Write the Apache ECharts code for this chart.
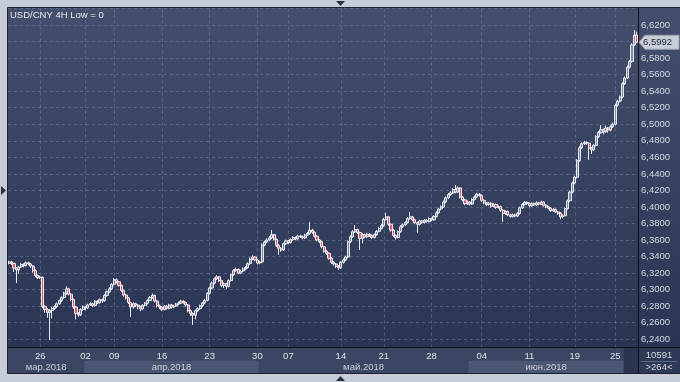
<!DOCTYPE html>
<html><head><meta charset="utf-8">
<script src="https://cdn.jsdelivr.net/npm/echarts@6/dist/echarts.min.js"></script>
<style>html,body{margin:0;padding:0;background:#c6cdd8;overflow:hidden}#c{width:680px;height:382px}</style>
</head><body><div id="c"></div><script>
const title = 'USD/CNY 4H Low = 0';
const opens = [
6.3320,6.3335,6.3318,6.3262,6.3240,6.3275,6.3305,6.3290,6.3325,6.3310,
6.3285,6.3230,6.3170,6.3145,6.3150,6.2795,6.2760,6.2725,6.2748,6.2772,
6.2795,6.2830,6.2868,6.2905,6.2958,6.3010,6.2945,6.2880,6.2790,6.2712,
6.2695,6.2760,6.2792,6.2778,6.2815,6.2830,6.2808,6.2860,6.2842,6.2880,
6.2865,6.2930,6.2975,6.3010,6.3065,6.3120,6.3095,6.3052,6.2990,6.2935,
6.2900,6.2845,6.2790,6.2830,6.2812,6.2795,6.2768,6.2810,6.2835,6.2870,
6.2905,6.2930,6.2862,6.2805,6.2790,6.2760,6.2800,6.2775,6.2815,6.2790,
6.2802,6.2825,6.2838,6.2860,6.2845,6.2815,6.2745,6.2712,6.2690,6.2745,
6.2770,6.2805,6.2840,6.2870,6.2955,6.3020,6.3080,6.3130,6.3155,6.3110,
6.3050,6.3072,6.3040,6.3110,6.3180,6.3230,6.3245,6.3200,6.3225,6.3250,
6.3268,6.3315,6.3370,6.3395,6.3360,6.3322,6.3335,6.3540,6.3575,6.3600,
6.3625,6.3665,6.3610,6.3535,6.3500,6.3480,6.3555,6.3590,6.3570,6.3605,
6.3630,6.3615,6.3650,6.3640,6.3625,6.3660,6.3680,6.3720,6.3695,6.3645,
6.3600,6.3580,6.3520,6.3465,6.3440,6.3380,6.3330,6.3310,6.3282,6.3265,
6.3330,6.3360,6.3395,6.3580,6.3640,6.3700,6.3725,6.3690,6.3620,6.3665,
6.3640,6.3670,6.3655,6.3630,6.3665,6.3705,6.3740,6.3775,6.3850,6.3880,
6.3790,6.3720,6.3655,6.3630,6.3700,6.3760,6.3785,6.3810,6.3860,6.3880,
6.3845,6.3810,6.3790,6.3830,6.3815,6.3840,6.3825,6.3860,6.3845,6.3885,
6.3930,6.3975,6.4000,6.4060,6.4110,6.4150,6.4170,6.4210,6.4180,6.4230,
6.4120,6.4085,6.4040,6.4060,6.4035,6.4090,6.4120,6.4155,6.4140,6.4080,
6.4050,6.4030,6.4045,6.4010,6.4030,6.3995,6.4005,6.3960,6.3920,6.3945,
6.3905,6.3885,6.3905,6.3890,6.3920,6.3990,6.4030,6.4055,6.4040,6.4015,
6.4040,6.4025,6.4050,6.4035,6.4060,6.4020,6.4000,6.3985,6.3955,6.3970,
6.3940,6.3925,6.3880,6.3895,6.3980,6.4075,6.4180,6.4290,6.4360,6.4560,
6.4715,6.4765,6.4780,6.4770,6.4710,6.4690,6.4745,6.4850,6.4900,6.4935,
6.4910,6.4955,6.4930,6.4970,6.5000,6.5230,6.5280,6.5330,6.5490,6.5560,
6.5690,6.5760,6.5960,6.6080];
const closes = [
6.3335,6.3318,6.3262,6.3240,6.3275,6.3305,6.3290,6.3325,6.3310,6.3285,
6.3230,6.3170,6.3145,6.3150,6.2795,6.2760,6.2725,6.2748,6.2772,6.2795,
6.2830,6.2868,6.2905,6.2958,6.3010,6.2945,6.2880,6.2790,6.2712,6.2695,
6.2760,6.2792,6.2778,6.2815,6.2830,6.2808,6.2860,6.2842,6.2880,6.2865,
6.2930,6.2975,6.3010,6.3065,6.3120,6.3095,6.3052,6.2990,6.2935,6.2900,
6.2845,6.2790,6.2830,6.2812,6.2795,6.2768,6.2810,6.2835,6.2870,6.2905,
6.2930,6.2862,6.2805,6.2790,6.2760,6.2800,6.2775,6.2815,6.2790,6.2802,
6.2825,6.2838,6.2860,6.2845,6.2815,6.2745,6.2712,6.2690,6.2745,6.2770,
6.2805,6.2840,6.2870,6.2955,6.3020,6.3080,6.3130,6.3155,6.3110,6.3050,
6.3072,6.3040,6.3110,6.3180,6.3230,6.3245,6.3200,6.3225,6.3250,6.3268,
6.3315,6.3370,6.3395,6.3360,6.3322,6.3335,6.3540,6.3575,6.3600,6.3625,
6.3665,6.3610,6.3535,6.3500,6.3480,6.3555,6.3590,6.3570,6.3605,6.3630,
6.3615,6.3650,6.3640,6.3625,6.3660,6.3680,6.3720,6.3695,6.3645,6.3600,
6.3580,6.3520,6.3465,6.3440,6.3380,6.3330,6.3310,6.3282,6.3265,6.3330,
6.3360,6.3395,6.3580,6.3640,6.3700,6.3725,6.3690,6.3620,6.3665,6.3640,
6.3670,6.3655,6.3630,6.3665,6.3705,6.3740,6.3775,6.3850,6.3880,6.3790,
6.3720,6.3655,6.3630,6.3700,6.3760,6.3785,6.3810,6.3860,6.3880,6.3845,
6.3810,6.3790,6.3830,6.3815,6.3840,6.3825,6.3860,6.3845,6.3885,6.3930,
6.3975,6.4000,6.4060,6.4110,6.4150,6.4170,6.4210,6.4180,6.4230,6.4120,
6.4085,6.4040,6.4060,6.4035,6.4090,6.4120,6.4155,6.4140,6.4080,6.4050,
6.4030,6.4045,6.4010,6.4030,6.3995,6.4005,6.3960,6.3920,6.3945,6.3905,
6.3885,6.3905,6.3890,6.3920,6.3990,6.4030,6.4055,6.4040,6.4015,6.4040,
6.4025,6.4050,6.4035,6.4060,6.4020,6.4000,6.3985,6.3955,6.3970,6.3940,
6.3925,6.3880,6.3895,6.3980,6.4075,6.4180,6.4290,6.4360,6.4560,6.4715,
6.4765,6.4780,6.4770,6.4710,6.4690,6.4745,6.4850,6.4900,6.4935,6.4910,
6.4955,6.4930,6.4970,6.5000,6.5230,6.5280,6.5330,6.5490,6.5560,6.5690,
6.5760,6.5960,6.6075,6.5992];
const highs = [
6.3350,6.3348,6.3325,6.3270,6.3288,6.3320,6.3318,6.3340,6.3338,6.3322,
6.3295,6.3245,6.3182,6.3168,6.3160,6.2810,6.2775,6.2765,6.2790,6.2810,
6.2845,6.2880,6.2920,6.2975,6.3042,6.3022,6.2955,6.2892,6.2800,6.2730,
6.2775,6.2810,6.2805,6.2830,6.2848,6.2842,6.2875,6.2872,6.2895,6.2892,
6.2945,6.2990,6.3028,6.3080,6.3140,6.3135,6.3105,6.3060,6.3000,6.2948,
6.2912,6.2855,6.2845,6.2842,6.2825,6.2808,6.2825,6.2850,6.2885,6.2922,
6.2952,6.2940,6.2875,6.2820,6.2800,6.2815,6.2812,6.2830,6.2828,6.2818,
6.2840,6.2855,6.2878,6.2872,6.2855,6.2828,6.2758,6.2725,6.2760,6.2785,
6.2820,6.2855,6.2888,6.2970,6.3035,6.3098,6.3148,6.3175,6.3165,6.3120,
6.3088,6.3082,6.3125,6.3195,6.3248,6.3265,6.3255,6.3240,6.3268,6.3285,
6.3330,6.3388,6.3415,6.3405,6.3372,6.3350,6.3560,6.3592,6.3620,6.3648,
6.3722,6.3675,6.3620,6.3548,6.3515,6.3570,6.3605,6.3602,6.3620,6.3648,
6.3642,6.3665,6.3662,6.3655,6.3675,6.3698,6.3818,6.3735,6.3705,6.3658,
6.3612,6.3592,6.3530,6.3478,6.3452,6.3392,6.3345,6.3322,6.3295,6.3345,
6.3378,6.3412,6.3595,6.3658,6.3720,6.3782,6.3738,6.3702,6.3680,6.3678,
6.3688,6.3685,6.3668,6.3680,6.3722,6.3758,6.3792,6.3868,6.3930,6.3892,
6.3802,6.3732,6.3668,6.3715,6.3778,6.3802,6.3828,6.3878,6.3940,6.3892,
6.3858,6.3822,6.3845,6.3842,6.3855,6.3852,6.3875,6.3872,6.3900,6.3948,
6.3992,6.4018,6.4078,6.4128,6.4168,6.4190,6.4228,6.4265,6.4248,6.4240,
6.4132,6.4098,6.4078,6.4072,6.4105,6.4138,6.4172,6.4168,6.4150,6.4092,
6.4062,6.4062,6.4058,6.4045,6.4042,6.4020,6.4015,6.3972,6.3960,6.3958,
6.3918,6.3920,6.3918,6.3935,6.4005,6.4048,6.4072,6.4068,6.4052,6.4055,
6.4052,6.4068,6.4062,6.4078,6.4072,6.4032,6.4012,6.3998,6.3985,6.3982,
6.3952,6.3938,6.3910,6.3995,6.4090,6.4198,6.4308,6.4378,6.4578,6.4735,
6.4782,6.4798,6.4795,6.4782,6.4725,6.4760,6.4868,6.4918,6.4990,6.4948,
6.4985,6.4968,6.4988,6.5020,6.5250,6.5298,6.5348,6.5508,6.5578,6.5710,
6.5778,6.5980,6.6140,6.6120];
const lows = [
6.3305,6.3300,6.3215,6.3080,6.3190,6.3262,6.3270,6.3280,6.3295,6.3262,
6.3205,6.3150,6.3128,6.3130,6.2775,6.2720,6.2660,6.2391,6.2650,6.2755,
6.2780,6.2815,6.2850,6.2890,6.2940,6.2930,6.2862,6.2770,6.2640,6.2672,
6.2680,6.2745,6.2750,6.2765,6.2800,6.2790,6.2795,6.2825,6.2830,6.2840,
6.2855,6.2915,6.2960,6.2995,6.3050,6.3075,6.3035,6.2970,6.2915,6.2880,
6.2825,6.2670,6.2770,6.2790,6.2760,6.2740,6.2755,6.2798,6.2820,6.2858,
6.2890,6.2845,6.2785,6.2765,6.2742,6.2748,6.2758,6.2762,6.2772,6.2775,
6.2790,6.2812,6.2825,6.2830,6.2795,6.2725,6.2680,6.2573,6.2640,6.2730,
6.2755,6.2790,6.2825,6.2858,6.2940,6.3005,6.3065,6.3115,6.3090,6.3030,
6.3020,6.3010,6.3028,6.3098,6.3165,6.3215,6.3185,6.3188,6.3210,6.3235,
6.3255,6.3300,6.3355,6.3345,6.3305,6.3308,6.3320,6.3525,6.3560,6.3585,
6.3610,6.3595,6.3515,6.3420,6.3460,6.3468,6.3540,6.3552,6.3558,6.3592,
6.3598,6.3602,6.3625,6.3608,6.3612,6.3648,6.3665,6.3678,6.3630,6.3585,
6.3562,6.3500,6.3448,6.3420,6.3362,6.3312,6.3290,6.3262,6.3240,6.3252,
6.3315,6.3345,6.3380,6.3565,6.3625,6.3685,6.3672,6.3480,6.3560,6.3622,
6.3625,6.3638,6.3612,6.3618,6.3650,6.3692,6.3728,6.3760,6.3835,6.3772,
6.3702,6.3635,6.3605,6.3618,6.3688,6.3745,6.3770,6.3798,6.3845,6.3828,
6.3792,6.3685,6.3775,6.3798,6.3800,6.3810,6.3812,6.3828,6.3832,6.3872,
6.3918,6.3960,6.3988,6.4045,6.4095,6.4135,6.4155,6.4165,6.4168,6.4102,
6.4068,6.4022,6.4025,6.4018,6.4022,6.4078,6.4105,6.4125,6.4062,6.4032,
6.4012,6.4015,6.3992,6.3995,6.3978,6.3982,6.3942,6.3820,6.3905,6.3888,
6.3868,6.3872,6.3875,6.3878,6.3908,6.3975,6.4018,6.4025,6.3998,6.4002,
6.4010,6.4012,6.4020,6.4022,6.4005,6.3985,6.3970,6.3940,6.3942,6.3925,
6.3905,6.3850,6.3865,6.3885,6.3968,6.4062,6.4165,6.4275,6.4345,6.4545,
6.4700,6.4750,6.4752,6.4570,6.4640,6.4675,6.4730,6.4835,6.4885,6.4878,
6.4895,6.4900,6.4915,6.4955,6.4985,6.5215,6.5265,6.5315,6.5475,6.5545,
6.5675,6.5745,6.5945,6.5980];
const dayTickIdx = [13,32,44,64,84,104,117,139,157,177,198,218,237,254];
const dayTickLabels = ['26','02','09','16','23','30','07','14','21','28','04','11','19','25'];
const monthStartIdx = [0,32,105,193];
const monthEndIdx = [31,104,192,263];
const monthLabels = ['мар.2018','апр.2018','май.2018','июн.2018'];
const yMin = 6.22, yMax = 6.64, yStep = 0.02;
const lastPrice = 6.5992;
const footerTop = '10591', footerBottom = '>264<';

const FONT = 'Liberation Sans';
const cats = closes.map((_, i) => String(i));
const candles = opens.map((o, i) => [o, closes[i], lows[i], highs[i]]);
const fmtPrice = v => v.toFixed(4).replace('.', ',');

const chart = echarts.init(document.getElementById('c'), null, {renderer: 'canvas', width: 680, height: 382});
const option = {
  animation: false,
  backgroundColor: '#c6cdd8',
  grid: {left: 8, right: 42, top: 8.5, bottom: 26.2, containLabel: false},
  xAxis: [{
    type: 'category', data: cats, boundaryGap: true, z: 1,
    axisLine: {show: false}, axisTick: {show: false}, axisLabel: {show: false},
    splitLine: {show: true, alignWithLabel: true, interval: (i) => dayTickIdx.includes(i),
      lineStyle: {color: 'rgba(125,140,170,0.45)', type: [3, 3], width: 1}}
  }, {
    type: 'category', data: cats, boundaryGap: true, position: 'bottom', z: 10,
    axisLine: {show: false}, axisTick: {show: false}, splitLine: {show: false},
    axisLabel: {show: true, interval: (i) => dayTickIdx.includes(i),
      formatter: (v, i) => dayTickLabels[dayTickIdx.indexOf(i)] || '',
      margin: 1, verticalAlign: 'middle', fontFamily: FONT, fontSize: 9.5, color: '#dde1e8'}
  }],
  yAxis: {
    type: 'value', position: 'right', min: yMin, max: yMax, interval: yStep, z: 1,
    axisLine: {show: false}, axisTick: {show: false},
    axisLabel: {margin: 3, fontFamily: FONT, fontSize: 9.5, color: '#d3d8e0',
      formatter: v => (Math.abs(v - yMin) < 1e-6 || Math.abs(v - yMax) < 1e-6) ? '' : fmtPrice(v)},
    splitLine: {show: true, lineStyle: {color: 'rgba(125,140,170,0.45)', type: [3, 3], width: 1}}
  },
  series: [{
    type: 'candlestick', data: candles, xAxisIndex: 0, barWidth: 2.6, z: 2,
    itemStyle: {color: 'rgba(172,180,198,0.6)', color0: '#e8556c', borderColor: '#e6e9ef', borderColor0: '#eceef3', borderWidth: 1}
  }]
};
chart.setOption(option);

const px = i => chart.convertToPixel({xAxisIndex: 0}, String(i));
const bw = px(1) - px(0);
const leftEdge = i => px(i) - bw / 2;
const rightEdge = i => px(i) + bw / 2;
const yLast = chart.convertToPixel({yAxisIndex: 0}, lastPrice);

const bgGrad = new echarts.graphic.LinearGradient(0, 0, 0, 1, [{offset: 0, color: '#434f6d'}, {offset: 1, color: '#2a3553'}]);
const g = [];
g.push({type: 'rect', silent: true, z: -10, shape: {x: 8, y: 8, width: 672, height: 340}, style: {fill: bgGrad}});
g.push({type: 'rect', silent: true, z: 5, shape: {x: 8, y: 347, width: 630, height: 26}, style: {fill: '#3b4762'}});
monthLabels.forEach((m, k) => {
  const x0 = leftEdge(monthStartIdx[k]), x1 = rightEdge(monthEndIdx[k]);
  if (k % 2 === 1) g.push({type: 'rect', silent: true, z: 6, shape: {x: x0, y: 361, width: x1 - x0, height: 12}, style: {fill: '#4a5772'}});
});
const boxX = leftEdge(258);
g.push({type: 'rect', silent: true, z: 7, shape: {x: boxX, y: 347, width: 638 - boxX, height: 26}, style: {fill: '#2b3550'}});
monthLabels.forEach((m, k) => {
  const x0 = leftEdge(monthStartIdx[k]), x1 = Math.min(rightEdge(monthEndIdx[k]), boxX);
  g.push({type: 'text', silent: true, z: 8, x: (x0 + x1) / 2, y: 367,
    style: {text: m, fill: '#c9ced8', font: '9.5px "' + FONT + '"', align: 'center', verticalAlign: 'middle'}});
});
// price axis footer
g.push({type: 'rect', silent: true, z: 5, shape: {x: 638, y: 347, width: 42, height: 26}, style: {fill: '#2e3955'}});
g.push({type: 'line', silent: true, z: 8, shape: {x1: 641, y1: 361.5, x2: 677, y2: 361.5}, style: {stroke: '#5a6680', lineWidth: 1}});
g.push({type: 'text', silent: true, z: 8, x: 659, y: 355, style: {text: footerTop, fill: '#d6dae2', font: '9.5px "' + FONT + '"', align: 'center', verticalAlign: 'middle'}});
g.push({type: 'text', silent: true, z: 8, x: 659, y: 367, style: {text: footerBottom, fill: '#d6dae2', font: '9.5px "' + FONT + '"', align: 'center', verticalAlign: 'middle'}});
// separators
g.push({type: 'line', silent: true, z: 20, shape: {x1: 8, y1: 347.5, x2: 680, y2: 347.5}, style: {stroke: '#0d1119', lineWidth: 1}});
g.push({type: 'line', silent: true, z: 20, shape: {x1: 638.5, y1: 8, x2: 638.5, y2: 373}, style: {stroke: '#0d1119', lineWidth: 1}});
g.push({type: 'rect', silent: true, z: 20, shape: {x: 7.5, y: 7.5, width: 680, height: 366}, style: {fill: null, stroke: '#1a2130', lineWidth: 1}});
// title
g.push({type: 'text', silent: true, z: 20, x: 10, y: 15, style: {text: title, fill: '#e4e7ee', font: '9.5px "' + FONT + '"', align: 'left', verticalAlign: 'middle'}});
// last price tag
g.push({type: 'polygon', silent: true, z: 20, shape: {points: [[639, yLast], [645, yLast - 7], [679, yLast - 7], [679, yLast + 7], [645, yLast + 7]]}, style: {fill: '#c9cdd5', stroke: '#9aa2b2', lineWidth: 1}});
g.push({type: 'text', silent: true, z: 21, x: 643, y: yLast, style: {text: fmtPrice(lastPrice), fill: '#1d2639', font: '9.5px "' + FONT + '"', align: 'left', verticalAlign: 'middle'}});
// frame markers
g.push({type: 'polygon', silent: true, z: 20, shape: {points: [[336, 1], [345, 1], [340.5, 6]]}, style: {fill: '#2b3140'}});
g.push({type: 'polygon', silent: true, z: 20, shape: {points: [[336, 381], [345, 381], [340.5, 376]]}, style: {fill: '#2b3140'}});
g.push({type: 'polygon', silent: true, z: 20, shape: {points: [[1, 186], [1, 195], [6, 190.5]]}, style: {fill: '#2b3140'}});
chart.setOption({graphic: g});
</script></body></html>
